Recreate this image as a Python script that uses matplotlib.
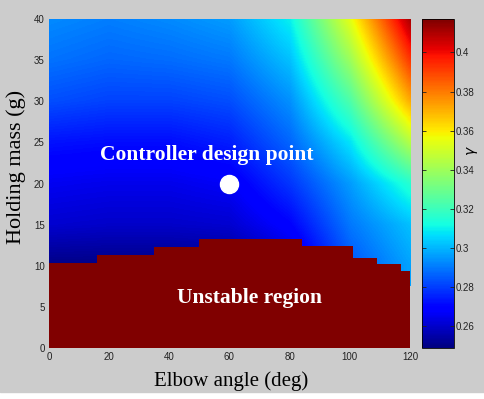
import matplotlib
matplotlib.use('Agg')
import matplotlib.pyplot as plt
import numpy as np
from matplotlib import cm
from matplotlib.colors import Normalize

# gamma over elbow angle (columns) and holding mass (rows)
angles = [0, 20, 40, 60, 80, 100, 120]
masses = [10, 15, 20, 25, 30, 35, 40]
gamma = [
    [0.250, 0.250, 0.250, 0.251, 0.260, 0.284, 0.297],
    [0.261, 0.260, 0.260, 0.261, 0.270, 0.290, 0.302],
    [0.266, 0.265, 0.265, 0.267, 0.279, 0.296, 0.316],
    [0.273, 0.272, 0.272, 0.275, 0.287, 0.308, 0.345],
    [0.283, 0.281, 0.281, 0.283, 0.294, 0.324, 0.372],
    [0.289, 0.287, 0.288, 0.290, 0.302, 0.340, 0.393],
    [0.293, 0.291, 0.293, 0.296, 0.310, 0.355, 0.412],
]

# stability limit: mass below which the loop is unstable
edge_angles = [0, 16, 35, 50, 84, 101, 109, 117, 120]
edge_mass = [10.3, 11.3, 12.3, 13.3, 12.4, 11.0, 10.2, 9.3]

design_angle, design_mass = 60, 20
gmin, gmax = 0.249, 0.417
cbar_ticks = [0.26, 0.28, 0.30, 0.32, 0.34, 0.36, 0.38, 0.40]

bg = '#cccccc'
fig = plt.figure(figsize=(4.84, 3.99), dpi=100, facecolor='white')
fig.patches.append(plt.Rectangle((0, 7 / 399), 1, 1, transform=fig.transFigure,
                                 color=bg, zorder=-10))

ax = fig.add_axes([0.101, 0.128, 0.746, 0.824])
cax = fig.add_axes([0.872, 0.128, 0.066, 0.824])

norm = Normalize(gmin, gmax)
da = angles[1] - angles[0]
dm = masses[1] - masses[0]
ax.imshow(np.array(gamma), cmap='jet', norm=norm, origin='lower', aspect='auto',
          interpolation='bilinear', interpolation_stage='data',
          extent=[angles[0] - da / 2, angles[-1] + da / 2,
                  masses[0] - dm / 2, masses[-1] + dm / 2])

ax.fill_between(edge_angles, 0, edge_mass + [edge_mass[-1]], step='post',
                color=cm.jet(1.0), linewidth=0, zorder=3)

ax.plot(design_angle, design_mass, 'o', color='white', markersize=13, zorder=5)
ax.text(52.5, 23.5, 'Controller design point', color='white', fontsize=15.5,
        fontweight='bold', family='Liberation Serif', ha='center', va='center', zorder=6)
ax.text(66.8, 6.1, 'Unstable region', color='white', fontsize=15.5,
        fontweight='bold', family='Liberation Serif', ha='center', va='center', zorder=6)

ax.set_xlim(0, 120)
ax.set_ylim(0, 40)
ax.set_xticks(range(0, 121, 20))
ax.set_yticks(range(0, 41, 5))
ax.tick_params(length=0, pad=3, labelsize=7, colors='#222222')
for lbl in ax.get_xticklabels() + ax.get_yticklabels():
    lbl.set_family('Liberation Sans')
for s in ax.spines.values():
    s.set_visible(False)
ax.set_xlabel('Elbow angle (deg)', family='Liberation Serif', fontsize=15)
ax.set_ylabel('Holding mass (g)', family='Liberation Serif', fontsize=16)
ax.xaxis.set_label_coords(0.505, -0.07)
ax.yaxis.set_label_coords(-0.062, 0.55)

sm = cm.ScalarMappable(norm=norm, cmap='jet')
cb = fig.colorbar(sm, cax=cax)
cb.set_ticks(cbar_ticks)
cb.set_ticklabels(['%g' % t for t in cbar_ticks])
cax.tick_params(direction='in', length=3, width=0.6, pad=1, labelsize=7,
                colors='#222222', left=True, right=True)
for lbl in cax.get_yticklabels():
    lbl.set_family('Liberation Sans')
cb.outline.set_linewidth(0.6)
cb.set_label(r'$\gamma$', fontsize=10, rotation=90)
cax.yaxis.set_label_coords(1.35, 0.6)

fig.savefig('out.png', dpi=100, facecolor=fig.get_facecolor())
